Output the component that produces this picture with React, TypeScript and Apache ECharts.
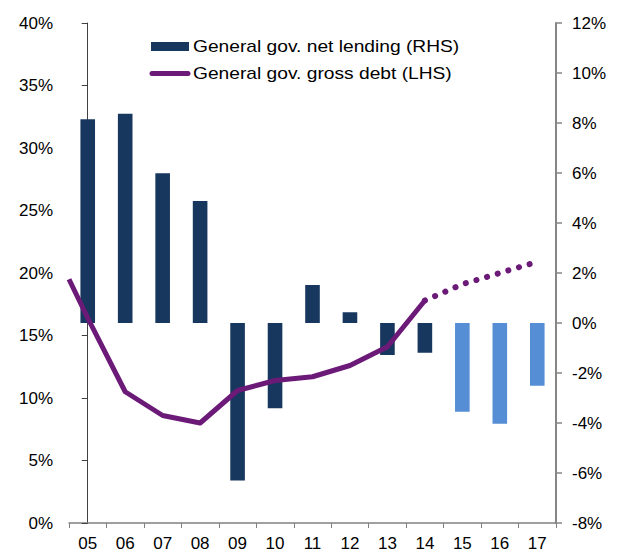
import React, { useEffect, useRef } from "react";
import * as echarts from "echarts";

// Categories (years) on the x axis
const categories = ["05", "06", "07", "08", "09", "10", "11", "12", "13", "14", "15", "16", "17"];
// General gov. net lending (RHS, % of GDP)
const netLending = [8.15, 8.37, 5.99, 4.88, -6.3, -3.41, 1.52, 0.43, -1.28, -1.19, -3.55, -4.03, -2.51];
// first forecast index for bars
const forecastStart = 10;
// General gov. gross debt (LHS); the line enters the chart at the left edge (value read at the axis)
const debtEdgeValue = 19.5;
const debtYears = ["05", "06", "07", "08", "09", "10", "11", "12", "13", "14"];
const debtActual = [16.4, 10.5, 8.6, 8.0, 10.6, 11.4, 11.7, 12.6, 14.1, 17.8];
const debtForecastYears = ["14", "15", "16", "17"];
const debtForecast = [17.8, 19.1, 20.0, 20.9];
// Tick settings
const leftTicks = { min: 0, max: 40, interval: 5 };
const rightTicks = { min: -8, max: 12, interval: 2 };
const legendLabels = ["General gov. net lending (RHS)", "General gov. gross debt (LHS)"];

const NAVY = "#17375E";
const LIGHT = "#558ED5";
const PURPLE = "#6C1A78";
const FONT = "'Liberation Sans', Arial, sans-serif";

const yearIndex = (y: string) => categories.indexOf(y);

export default function App() {
  const ref = useRef<HTMLDivElement>(null);
  useEffect(() => {
    if (!ref.current) return;
    const chart = echarts.init(ref.current, undefined, { renderer: "svg" });
    const xMin = -0.5;
    const option: any = {
      animation: false,
      grid: { left: 69, right: 71, top: 23, bottom: 33, containLabel: false },
      xAxis: [
        {
          type: "category",
          data: categories,
          axisLine: { show: true, lineStyle: { color: "#808080", width: 1.5 } },
          axisTick: { show: true, length: 5, alignWithLabel: false, lineStyle: { color: "#808080" } },
          axisLabel: { color: "#000", fontSize: 17, fontFamily: FONT, margin: 12 },
          splitLine: { show: false },
        },
        {
          type: "value",
          min: xMin,
          max: categories.length - 0.5,
          show: false,
          splitLine: { show: false },
        },
      ],
      yAxis: [
        {
          type: "value",
          position: "left",
          min: leftTicks.min,
          max: leftTicks.max,
          interval: leftTicks.interval,
          axisLine: { show: true, lineStyle: { color: "#404040", width: 1 } },
          axisTick: { show: true, length: 6, lineStyle: { color: "#404040" } },
          axisLabel: { color: "#000", fontSize: 17, fontFamily: FONT, margin: 16, formatter: "{value}%" },
          splitLine: { show: false },
        },
        {
          type: "value",
          position: "right",
          min: rightTicks.min,
          max: rightTicks.max,
          interval: rightTicks.interval,
          axisLine: { show: true, lineStyle: { color: "#868686", width: 2 } },
          axisTick: { show: true, length: 6, lineStyle: { color: "#868686", width: 1.5 } },
          axisLabel: { color: "#000", fontSize: 17, fontFamily: FONT, margin: 16, formatter: "{value}%" },
          splitLine: { show: false },
        },
      ],
      series: [
        {
          type: "bar",
          name: legendLabels[0],
          xAxisIndex: 0,
          yAxisIndex: 1,
          barWidth: "39%",
          data: netLending.map((v, i) => ({
            value: v,
            itemStyle: { color: i >= forecastStart ? LIGHT : NAVY },
          })),
        },
        {
          type: "line",
          name: legendLabels[1],
          xAxisIndex: 1,
          yAxisIndex: 0,
          clip: true,
          showSymbol: false,
          symbol: "none",
          lineStyle: { color: PURPLE, width: 5, join: "round", cap: "butt" },
          data: [[xMin, debtEdgeValue], ...debtYears.map((y, i) => [yearIndex(y), debtActual[i]])],
          z: 3,
        },
        {
          type: "line",
          name: "forecast",
          xAxisIndex: 1,
          yAxisIndex: 0,
          clip: true,
          showSymbol: false,
          symbol: "none",
          lineStyle: { color: PURPLE, width: 6, type: [0.1, 11], cap: "round" },
          data: debtForecastYears.map((y, i) => [yearIndex(y), debtForecast[i]]),
          z: 3,
        },
      ],
      graphic: [
        { type: "rect", shape: { x: 151, y: 42, width: 38, height: 9 }, style: { fill: NAVY } },
        {
          type: "text",
          x: 193,
          y: 46.5,
          scaleX: 1.2,
          style: { text: legendLabels[0], fontSize: 16, fontFamily: FONT, fill: "#000", verticalAlign: "middle" },
        },
        {
          type: "line",
          shape: { x1: 152, y1: 73.5, x2: 188, y2: 73.5 },
          style: { stroke: PURPLE, lineWidth: 5, lineCap: "round" },
        },
        {
          type: "text",
          x: 193,
          y: 73.5,
          scaleX: 1.2,
          style: { text: legendLabels[1], fontSize: 16, fontFamily: FONT, fill: "#000", verticalAlign: "middle" },
        },
      ],
    };
    chart.setOption(option);
    return () => chart.dispose();
  }, []);
  return <div ref={ref} style={{ width: 627, height: 556, position: "absolute", left: 0, top: 0 }} />;
}
